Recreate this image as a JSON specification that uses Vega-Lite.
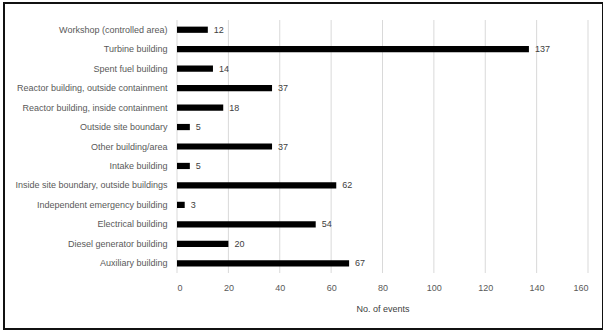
{
  "$schema": "https://vega.github.io/schema/vega-lite/v6.json",
  "width": 599,
  "height": 326,
  "autosize": {"type": "none"},
  "padding": {"left": 4, "top": 3, "right": 0, "bottom": 2},
  "background": "white",
  "config": {
    "view": {"stroke": "#111111", "strokeWidth": 2},
    "font": "Liberation Sans"
  },
  "datasets": {
    "events": [
      {"location": "Workshop (controlled area)", "events": 12},
      {"location": "Turbine building", "events": 137},
      {"location": "Spent fuel building", "events": 14},
      {"location": "Reactor building, outside containment", "events": 37},
      {"location": "Reactor building, inside containment", "events": 18},
      {"location": "Outside site boundary", "events": 5},
      {"location": "Other building/area", "events": 37},
      {"location": "Intake building", "events": 5},
      {"location": "Inside site boundary, outside buildings", "events": 62},
      {"location": "Independent emergency building", "events": 3},
      {"location": "Electrical building", "events": 54},
      {"location": "Diesel generator building", "events": 20},
      {"location": "Auxiliary building", "events": 67}
    ],
    "ticks": [
      {"tick": 0}, {"tick": 20}, {"tick": 40}, {"tick": 60}, {"tick": 80},
      {"tick": 100}, {"tick": 120}, {"tick": 140}, {"tick": 160}
    ]
  },
  "resolve": {"scale": {"y": "independent"}},
  "layer": [
    {
      "data": {"name": "ticks"},
      "mark": {"type": "rule", "color": "#d9d9d9", "strokeWidth": 1},
      "encoding": {
        "x": {
          "field": "tick",
          "type": "quantitative",
          "scale": {"domain": [0, 160], "nice": false, "range": [173, 584]},
          "axis": {
            "title": "No. of events",
            "titleFontSize": 9,
            "titleFontWeight": "normal",
            "titleColor": "#404040",
            "titlePadding": 12,
            "offset": -56,
            "values": [0, 20, 40, 60, 80, 100, 120, 140, 160],
            "ticks": false,
            "domain": false,
            "grid": false,
            "labelFontSize": 9,
            "labelColor": "#595959",
            "labelPadding": 10
          }
        },
        "y": {
          "datum": 0,
          "type": "quantitative",
          "scale": {"domain": [0, 1], "range": [17, 270], "nice": false, "zero": false},
          "axis": null
        },
        "y2": {"datum": 1}
      }
    },
    {
      "data": {"name": "events"},
      "encoding": {
        "y": {
          "field": "location",
          "type": "nominal",
          "sort": null,
          "scale": {"range": [17, 270], "paddingInner": 0.68, "paddingOuter": 0.34},
          "axis": {
            "title": null,
            "ticks": false,
            "domain": false,
            "offset": -173,
            "labelFontSize": 9,
            "labelColor": "#595959",
            "labelPadding": 10,
            "labelLimit": 200
          }
        },
        "x": {
          "field": "events",
          "type": "quantitative",
          "scale": {"domain": [0, 160], "nice": false, "range": [173, 584]},
          "axis": {
            "title": "No. of events",
            "titleFontSize": 9,
            "titleFontWeight": "normal",
            "titleColor": "#404040",
            "titlePadding": 12,
            "offset": -56,
            "values": [0, 20, 40, 60, 80, 100, 120, 140, 160],
            "ticks": false,
            "domain": false,
            "grid": false,
            "labelFontSize": 9,
            "labelColor": "#595959",
            "labelPadding": 10
          }
        }
      },
      "layer": [
        {"mark": {"type": "bar", "color": "black"}},
        {
          "mark": {"type": "text", "align": "left", "dx": 6, "fontSize": 9, "color": "#404040"},
          "encoding": {"text": {"field": "events", "type": "quantitative"}}
        }
      ]
    }
  ]
}
